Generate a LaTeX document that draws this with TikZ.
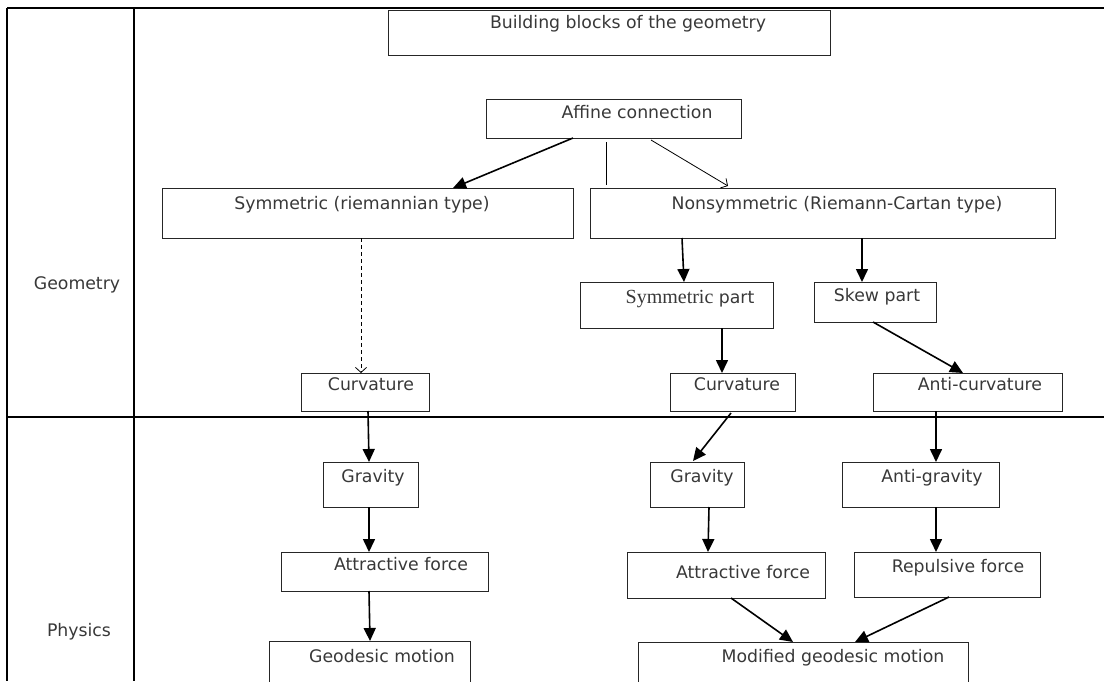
\documentclass[tikz,border=0pt]{standalone}
\usepackage{fontspec}
\setmainfont{DejaVu Sans}
\newfontfamily\serifword{Liberation Serif}
\usetikzlibrary{arrows.meta}
\newcommand\mybox[8]{%
  \node[box, minimum width={(#4-#2)*1pt}, minimum height={(#5-#3)*1pt}] (#1) at ({(#2+#4)/2},{(#3+#5)/2}) {};
  \node[txt] (#1-t) at (#6,{#7+6.3}) {#8};}
\begin{document}
\begin{tikzpicture}[x=1pt,y=-1pt,
  box/.style={draw=black!85, line width=0.9pt, inner sep=0pt, outer sep=0pt},
  txt/.style={anchor=base, inner sep=0pt, text=black!78, font=\fontsize{17.3}{20}\selectfont},
  frameline/.style={line width=1.1pt},
  big/.style={line width=1.6pt, -{Triangle[length=13pt,width=12pt]}},
  thinarrow/.style={line width=0.8pt, -{Straight Barb[length=5pt,width=11pt]}},
  dasharrow/.style={line width=0.8pt, dash pattern=on 4pt off 3pt, -{Straight Barb[length=5pt,width=11pt]}},
]
\useasboundingbox (0,0) rectangle (1104,681);
% frame
\draw[frameline] (7,8) -- (1104,8);
\draw[frameline] (7,8) -- (7,681);
\draw[frameline] (134,8) -- (134,681);
\draw[frameline] (7,417) -- (1104,417);
\node[txt] (geo) at (77,289.3) {Geometry};
\node[txt] (phy) at (79,636.3) {Physics};
% boxes
\mybox{bb}{388}{10}{830}{55}{628}{22}{Building blocks of the geometry}
\mybox{aff}{486}{99}{741}{138}{637}{112}{Affine connection}
\mybox{sym}{162}{188}{573}{238}{362}{203}{Symmetric (riemannian type)}
\mybox{nonsym}{590}{188}{1055}{238}{837}{203}{Nonsymmetric (Riemann-Cartan type)}
\mybox{sp}{580}{282}{773}{328}{690}{297}{{\serifword\fontsize{20}{22}\selectfont Symmetric} part}
\mybox{sk}{814}{282}{936}{322}{877}{295}{Skew part}
\mybox{cl}{301}{373}{429}{411}{371}{384}{Curvature}
\mybox{cm}{670}{373}{795}{411}{737}{384}{Curvature}
\mybox{ac}{873}{373}{1062}{411}{980}{384}{Anti-curvature}
\mybox{gl}{323}{462}{418}{507}{373}{476}{Gravity}
\mybox{gmid}{650}{462}{744}{507}{702}{476}{Gravity}
\mybox{ag}{842}{462}{999}{507}{932}{476}{Anti-gravity}
\mybox{al}{281}{552}{488}{591}{401}{564}{Attractive force}
\mybox{amid}{627}{552}{825}{598}{743}{572}{Attractive force}
\mybox{rf}{854}{552}{1040}{597}{958}{566}{Repulsive force}
\mybox{gm}{269}{641}{470}{700}{382}{656}{Geodesic motion}
\mybox{mg}{638}{642}{968}{700}{833}{656}{Modified geodesic motion}
% connectors
\draw[big] ([xshift=-40.5pt]aff.south) -- ([xshift=85.5pt]sym.north);
\draw[line width=0.8pt] ([xshift=-7.5pt,yshift=-4pt]aff.south) -- ([xshift=-216.5pt,yshift=3pt]nonsym.north);
\draw[thinarrow] ([xshift=37.5pt,yshift=-2pt]aff.south) -- ([xshift=-94.5pt,yshift=2pt]nonsym.north);
\draw[dasharrow] ([xshift=-6.5pt]sym.south) -- ([xshift=-4pt]cl.north);
\draw[big] ([xshift=-140.5pt]nonsym.south) -- ([xshift=7.5pt]sp.north);
\draw[big] ([xshift=39.5pt]nonsym.south) -- ([xshift=-13pt]sk.north);
\draw[big] ([xshift=45.5pt]sp.south) -- ([xshift=-10.5pt]cm.north);
\draw[big] ([xshift=-2pt]sk.south) -- ([xshift=-4.5pt]ac.north);
\draw[big] ([xshift=3pt]cl.south) -- ([xshift=-1.5pt]gl.north);
\draw[big] ([xshift=-1.5pt]gl.south) -- ([xshift=-15.5pt]al.north);
\draw[big] ([xshift=-15.5pt]al.south) -- ([xshift=0.5pt]gm.north);
\draw[big] ([xshift=-1.5pt,yshift=-2pt]cm.south) -- ([xshift=-4pt,yshift=1pt]gmid.north);
\draw[big] ([xshift=12pt]gmid.south) -- ([xshift=-18pt]amid.north);
\draw[big] ([xshift=-31.5pt]ac.south) -- ([xshift=15.5pt]ag.north);
\draw[big] ([xshift=15.5pt]ag.south) -- ([xshift=-11pt]rf.north);
\draw[big] ([xshift=5pt]amid.south) -- ([xshift=-10pt]mg.north);
\draw[big] ([xshift=2pt]rf.south) -- ([xshift=52pt]mg.north);
\end{tikzpicture}
\end{document}
